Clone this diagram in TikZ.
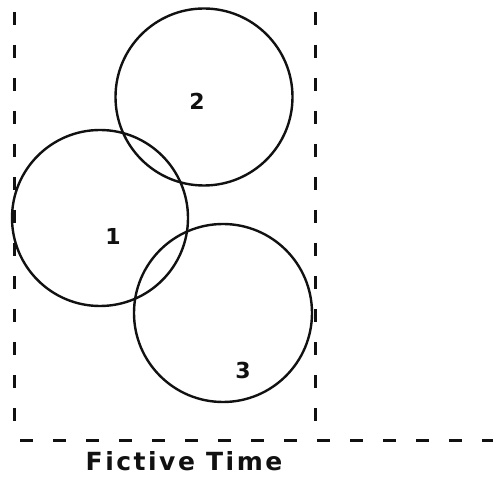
\documentclass[tikz,border=0pt]{standalone}
\usepackage{fontspec}
\usepackage{tikz}
\usetikzlibrary{positioning,calc}
\newfontfamily\ftfont{DejaVu Sans}
\newfontfamily\ftwidefont[LetterSpace=10]{DejaVu Sans}
\definecolor{ftline}{HTML}{111111}
\tikzset{ftcircle/.style={circle, draw=ftline, line width=2.4pt, inner sep=0pt}}
\tikzset{ftnum/.style={anchor=base, font=\ftfont\bfseries\fontsize{22}{24}\selectfont, text=ftline, inner sep=0pt}}
\tikzset{ftdash/.style={draw=ftline, line width=3pt, dash pattern=on 13pt off 20pt}}
\tikzset{ftlabel/.style={anchor=base, font=\ftwidefont\bfseries\fontsize{25}{28}\selectfont, text=ftline, inner sep=0pt}}

\begin{document}
\begin{tikzpicture}[x=1pt, y=-1pt]
  \useasboundingbox (0,0) rectangle (493,481);

  \node[ftcircle, minimum size=176pt] (circ1) at (100,218) {};
  \node[ftcircle, minimum size=177pt] (circ2) at (204,97) {};
  \node[ftcircle, minimum size=178pt] (circ3) at (223,313) {};

  \node[ftnum] (num1) at (113,245) {1};
  \node[ftnum] (num2) at (197,110) {2};
  \node[ftnum] (num3) at (243,378) {3};

  \coordinate (lefttop) at (14,12);
  \coordinate (leftbot) at (14,426);
  \coordinate (righttop) at (315,12);
  \coordinate (rightbot) at (315,426);
  \coordinate (axisleft) at (20,440);
  \coordinate (axisright) at (493,440);

  \draw[ftdash] (lefttop) -- (leftbot);
  \draw[ftdash] (righttop) -- (rightbot);
  \draw[ftdash] (axisleft) -- (axisright);

  \node[ftlabel] (xlabel) at (184,470) {Fictive Time};
\end{tikzpicture}
\end{document}
